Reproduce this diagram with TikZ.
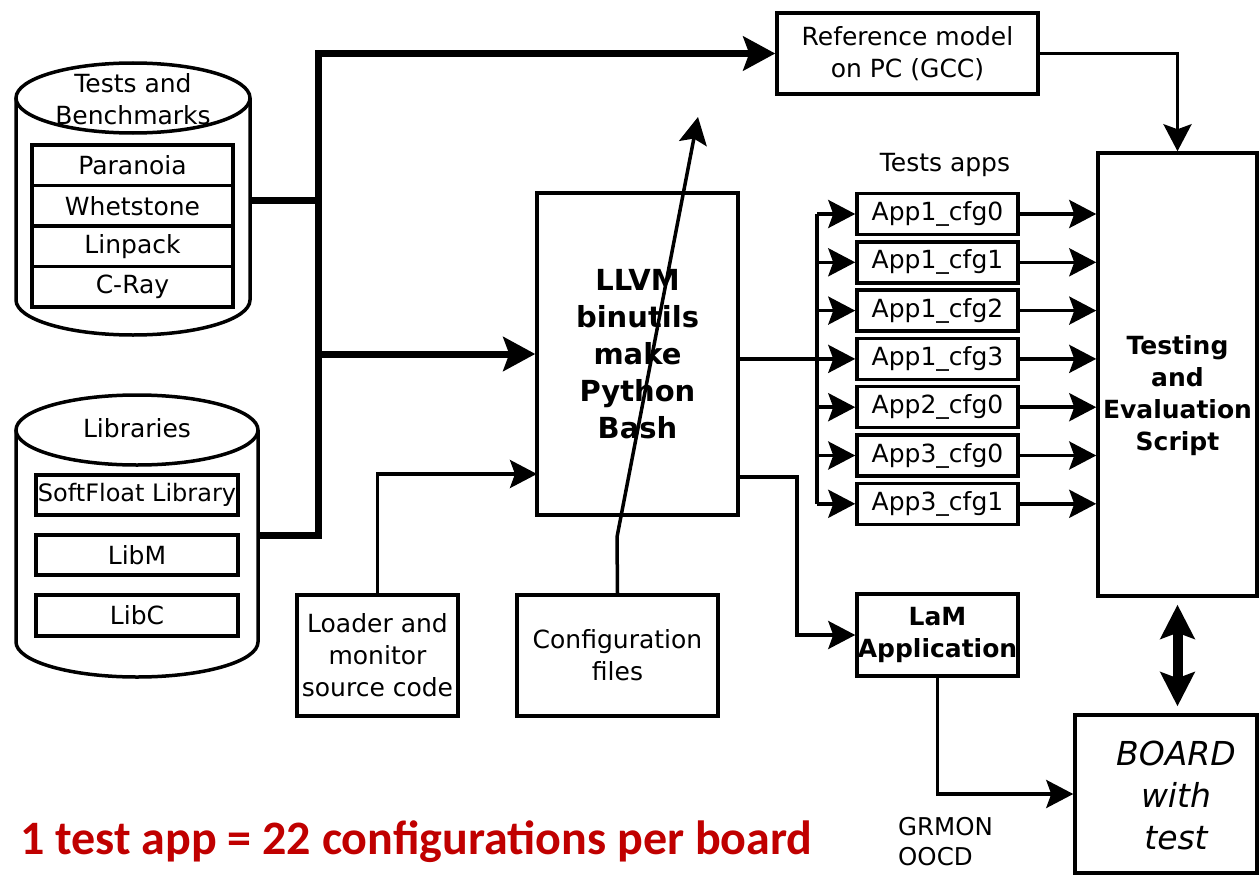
\documentclass[tikz,border=0pt]{standalone}
\usepackage{fontspec}
\setmainfont{DejaVu Sans}
\newfontfamily\redfont{Carlito}
\usetikzlibrary{arrows.meta}
\definecolor{redtxt}{HTML}{C00000}
\begin{document}
\begin{tikzpicture}[x=1pt,y=-1pt,
  txt/.style={font=\fontsize{25}{32}\selectfont},
  box/.style={draw, line width=3.5pt, inner sep=0pt, align=center, txt},
  lbl/.style={inner sep=0pt, align=center, txt},
  conn/.style={line width=3.5pt},
  bus/.style={line width=7pt},
  tip/.style={-{Stealth[length=27pt,width=28pt,inset=5pt]}},
  bigtip/.style={-{Stealth[length=32pt,width=34pt,inset=6pt]}},
  cyl/.style={line width=3.5pt}]
\useasboundingbox (0,0) rectangle (1259,875);

% ---- Tests and Benchmarks cylinder
\draw[cyl] (16,98) -- (16,300) arc[start angle=180, end angle=360, x radius=117pt, y radius=35pt] -- (250,98);
\draw[cyl] (133,98) ellipse [x radius=117pt, y radius=35pt];
\node[lbl] (tbtitle) at (133,99) {Tests and\\Benchmarks};
\node[box, minimum width=201, minimum height=40.5] (par) at (132.5,165.25) {Paranoia};
\node[box, minimum width=201, minimum height=40.5] (whe) at (132.5,205.75) {Whetstone};
\node[box, minimum width=201, minimum height=40.5] (lin) at (132.5,246.25) {Linpack};
\node[box, minimum width=201, minimum height=40.5] (cray) at (132.5,286.75) {C-Ray};

% ---- Libraries cylinder
\draw[cyl] (16,430) -- (16,642) arc[start angle=180, end angle=360, x radius=121pt, y radius=35pt] -- (258,430);
\draw[cyl] (137,430) ellipse [x radius=121pt, y radius=35pt];
\node[lbl] (libtitle) at (137,428) {Libraries};
\node[box, minimum width=202, minimum height=40, font=\fontsize{24}{30}\selectfont] (soft) at (137,495) {SoftFloat Library};
\node[box, minimum width=202, minimum height=40] (libm) at (137,555) {LibM};
\node[box, minimum width=202, minimum height=41] (libc) at (137,615.5) {LibC};

% ---- main boxes
\node[box, minimum width=261, minimum height=81] (ref) at (907.5,53.5) {Reference model\\on PC (GCC)};
\node[box, minimum width=201, minimum height=322, font=\bfseries\fontsize{29}{37}\selectfont] (llvm) at (637.5,354) {LLVM\\binutils\\make\\Python\\Bash};
\node[box, minimum width=161, minimum height=121] (loader) at (377.5,655.5) {Loader and\\monitor\\source code};
\node[box, minimum width=201, minimum height=121] (config) at (617.5,655.5) {Configuration\\files};
\node[box, minimum width=159, minimum height=443] (test) at (1177.5,374.5) {};
\node[lbl, font=\bfseries\fontsize{25}{32}\selectfont] (testtxt) at (1177.5,396) {Testing\\and\\Evaluation\\Script};
\node[box, minimum width=161, minimum height=82, font=\bfseries\fontsize{25}{32}\selectfont] (lam) at (937.5,635) {LaM\\Application};
\node[box, minimum width=182, minimum height=158] (board) at (1166,794) {};
\node[lbl, font=\itshape\fontsize{33}{42}\selectfont] (boardtxt) at (1176,795) {BOARD\\with\\test};

\node[lbl] (appstitle) at (945,165) {Tests apps};
\foreach \n/\t/\yy in {a0/App1\_cfg0/214, a1/App1\_cfg1/262.3, a2/App1\_cfg2/310.6, a3/App1\_cfg3/358.9, a4/App2\_cfg0/407.2, a5/App3\_cfg0/455.5, a6/App3\_cfg1/503.8}{
  \node[box, minimum width=161, minimum height=41] (\n) at (937.5,\yy) {\t};
}

\node[lbl, align=left, anchor=west, font=\fontsize{24.5}{30}\selectfont] (grmon) at (898,842) {GRMON\\OOCD};
\node[inner sep=0pt, anchor=west, text=redtxt, font=\redfont\bfseries\fontsize{48}{52}\selectfont] (note) at (20,842) {1 test app = 22 configurations per board};

% ---- coordinates
\coordinate (tbR) at (250,200);
\coordinate (libR) at (258,535);
\coordinate (busT) at (318,53.5);
\coordinate (llvmIn2) at (537,474);
\coordinate (cfgBend) at (617,537);
\coordinate (cfgTip) at (698,117);
\coordinate (llvmOut2) at (738,477);
\coordinate (split) at (797,477);
\coordinate (appBus) at (817,214);

% ---- thick bus
\draw[bus, bigtip] (libR) -| (busT) -- (ref.west);
\draw[bus] (tbR) -- (tbR -| busT);
\draw[bus, bigtip] (busT |- llvm.west) -- (llvm.west);

% ---- thin connectors
\draw[conn, tip] (loader.north) |- (llvmIn2);
\draw[conn, tip] (config.north) -- (cfgBend) -- (cfgTip);
\draw[conn, tip] (ref.east) -| (test.north);
\draw[conn] (appBus |- a0.west) -- (appBus |- a6.west);
\draw[conn] (llvm.east |- a3.west) -- (appBus |- a3.west);
\foreach \n in {a0,a1,a2,a3,a4,a5,a6}{
  \draw[conn, tip] (appBus |- \n.west) -- (\n.west);
  \draw[conn, tip] (\n.east) -- (test.west |- \n.east);
}
\draw[conn, tip] (llvmOut2) -- (split) |- (lam.west);
\draw[conn, tip] (lam.south) |- (board.west);
\draw[line width=10pt, {Stealth[length=34pt,width=34pt,inset=6pt]}-{Stealth[length=34pt,width=34pt,inset=6pt]}, shorten <=7pt, shorten >=7pt] (test.south) -- (test.south |- board.north);
\end{tikzpicture}
\end{document}
